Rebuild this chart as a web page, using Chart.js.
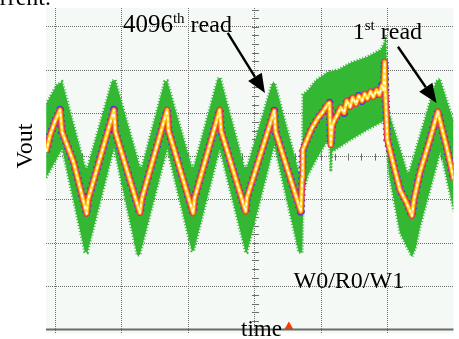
<!DOCTYPE html>
<html>
<head>
<meta charset="utf-8">
<script src="https://cdn.jsdelivr.net/npm/chart.js@4.4.1/dist/chart.umd.min.js"></script>
<style>html,body{margin:0;padding:0;background:#fff}canvas{display:block}</style>
</head>
<body>
<canvas id="scope" width="459" height="339"></canvas>
<script>
'use strict';
// time and Vout in screen divisions
var traceT=[-0.14,-0.08,-0.01,0.07,0.10,0.27,0.47,0.49,0.88,0.90,1.27,1.30,1.68,1.70,2.07,2.09,2.47,2.49,2.86,2.88,3.29,3.31,3.69,3.71,3.72,3.80,3.86,3.95,4.01,4.10,4.12,4.14,4.16,4.19,4.23,4.29,4.34,4.38,4.43,4.47,4.52,4.56,4.61,4.65,4.69,4.74,4.78,4.83,4.87,4.91,4.93,4.95,4.96,4.99,5.09,5.18,5.28,5.36,5.39,5.48,5.63,5.75,5.77,5.88,5.99];
var traceV=[4.11,4.50,4.80,5.08,4.57,3.88,2.68,3.00,5.08,4.57,2.70,3.03,5.08,4.60,2.69,3.03,5.08,4.60,2.73,3.05,5.06,4.57,2.73,3.51,4.16,4.46,4.67,4.90,5.01,5.22,5.24,4.27,4.71,4.83,4.94,5.13,5.01,5.29,5.15,5.36,5.22,5.40,5.29,5.45,5.34,5.50,5.38,5.54,5.43,5.64,5.54,6.19,5.50,4.39,3.77,3.23,2.93,2.63,3.00,3.63,4.39,5.04,4.90,4.23,3.46];
var upperT=[-0.14,0.02,0.10,0.45,0.48,0.85,0.90,1.27,1.30,1.64,1.68,2.05,2.08,2.44,2.48,2.84,2.88,3.26,3.30,3.67,3.71,3.72,3.80,3.92,4.10,4.25,4.44,4.69,4.89,4.95,4.97,4.98,5.01,5.29,5.32,5.72,5.78,5.99];
var upperV=[5.22,5.66,5.73,3.74,3.74,5.75,5.77,3.76,3.76,5.73,5.75,3.76,3.76,5.80,5.82,3.76,3.76,5.70,5.70,3.58,3.56,5.43,5.54,5.77,5.96,6.01,6.17,6.31,6.47,6.65,6.81,6.24,5.04,3.63,3.65,5.73,5.80,4.80];
var lowerT=[-0.14,0.10,0.44,0.48,0.88,1.23,1.27,1.68,2.05,2.08,2.47,2.86,2.88,3.29,3.66,3.71,3.73,3.80,3.92,4.10,4.12,4.14,4.16,4.25,4.44,4.69,4.94,4.96,5.01,5.18,5.28,5.36,5.41,5.48,5.79,5.99];
var lowerV=[3.51,4.18,1.80,1.78,4.20,1.71,1.73,4.18,1.82,1.82,4.18,1.78,1.78,4.27,1.78,1.78,3.19,3.58,3.93,4.39,4.37,3.65,4.11,4.20,4.39,4.62,4.83,4.71,3.63,2.24,1.92,1.69,1.85,2.36,4.13,2.73];
var triggerT=[3.51];
var triggerV=[0.06];
var xTicks=[0,1,2,3,4,5,6];
var yTicks=[0,1,2,3,4,5,6,7];

function pts(t,v){return t.map(function(x,i){return {x:x,y:v[i]};});}
var GREEN='#34b834', SERIF='"Liberation Serif","Times New Roman",serif';

function traceLine(color,width,dash,order){
  return {data:pts(traceT,traceV),borderColor:color,borderWidth:width,borderDash:dash,
    pointRadius:0,tension:0,fill:false,order:order,borderJoinStyle:'round'};
}

function text(ctx,x,y,parts){
  parts.forEach(function(p){
    ctx.font=p[1]+'px '+SERIF;
    ctx.fillText(p[0],x,y+p[2]);
    x+=ctx.measureText(p[0]).width;
  });
}
function arrow(ctx,x1,y1,x2,y2){
  var a=Math.atan2(y2-y1,x2-x1),L=19,W=8;
  var bx=x2-L*Math.cos(a),by=y2-L*Math.sin(a);
  ctx.beginPath();ctx.moveTo(x1,y1);ctx.lineTo(bx,by);ctx.lineWidth=2.4;ctx.strokeStyle='#000';ctx.stroke();
  ctx.beginPath();ctx.moveTo(x2,y2);
  ctx.lineTo(bx+W*Math.sin(a),by-W*Math.cos(a));
  ctx.lineTo(bx-W*Math.sin(a),by+W*Math.cos(a));
  ctx.closePath();ctx.fillStyle='#000';ctx.fill();
}

var scopeDeco={
  id:'scopeDeco',
  beforeDraw:function(chart){
    var c=chart.ctx,a=chart.chartArea;
    c.save();c.fillStyle='#fff';c.fillRect(0,0,chart.width,chart.height);
    c.fillStyle='#f4f9f5';c.fillRect(a.left,a.top,a.right-a.left,a.bottom-a.top);c.restore();
  },
  beforeDatasetsDraw:function(chart){
    var c=chart.ctx,xs=chart.scales.x,ys=chart.scales.y;
    var cx=xs.getPixelForValue(3),cy=ys.getPixelForValue(4),v;
    c.save();c.strokeStyle='#6e6e6e';c.lineWidth=1;c.beginPath();
    for(v=0.2;v<ys.max;v+=0.2){var py=Math.round(ys.getPixelForValue(v))+0.5;c.moveTo(cx-3,py);c.lineTo(cx+4,py);}
    for(v=0;v<xs.max;v+=0.2){var px=Math.round(xs.getPixelForValue(v))+0.5;c.moveTo(px,cy-3);c.lineTo(px,cy+4);}
    c.stroke();c.restore();
  },
  afterDatasetsDraw:function(chart){
    var c=chart.ctx,xs=chart.scales.x,ys=chart.scales.y,a=chart.chartArea;
    function X(t){return xs.getPixelForValue(t);}
    function Y(v){return ys.getPixelForValue(v);}
    c.save();
    c.strokeStyle='#6b6b6b';c.lineWidth=2;c.beginPath();c.moveTo(a.left,Y(0));c.lineTo(a.right,Y(0));c.stroke();
    c.fillStyle='#000';c.textBaseline='alphabetic';
    text(c,X(1.015),Y(6.89),[['4096',25,0],['th',15,-9],[' read',24,0]]);
    text(c,X(4.47),Y(6.71),[['1',24,0],['st',15,-9],[' read',24,0]]);
    text(c,X(3.58),Y(0.95),[['W0/R0/W1',24,0]]);
    arrow(c,X(2.59),Y(6.86),X(3.15),Y(5.47));
    arrow(c,X(5.15),Y(6.54),X(5.73),Y(5.24));
    text(c,241,336,[['time',23,0]]);
    text(c,-23,5,[['current.',24,0]]);
    c.translate(32,146);c.rotate(-Math.PI/2);c.textAlign='center';
    c.font='24px '+SERIF;c.fillText('Vout',0,0);
    c.restore();
  }
};

function axis(min,max,ticks){
  return {type:'linear',min:min,max:max,
    afterBuildTicks:function(s){s.ticks=ticks.filter(function(v){return v>=min&&v<=max;}).map(function(v){return {value:v};});},
    ticks:{display:false},
    grid:{color:'#707070',lineWidth:1,drawTicks:false},
    border:{display:false,dash:[1,1]}};
}

new Chart(document.getElementById('scope'),{
  type:'line',
  data:{datasets:[
    {data:pts(upperT,upperV),borderColor:GREEN,borderWidth:3,borderDash:[1,2],pointRadius:0,tension:0,fill:false,order:10},
    {data:pts(lowerT,lowerV),borderColor:GREEN,borderWidth:3,borderDash:[1,2],pointRadius:0,tension:0,fill:'-1',backgroundColor:GREEN,order:9},
    traceLine('#2b2bff',8,[1.5,4],5),
    traceLine('#e0305e',6.5,[],4),
    traceLine('#ff8c00',4.5,[],3),
    traceLine('#ffe23a',2.6,[],2),
    traceLine('#ffffff',1.5,[3,3],1),
    {data:pts(triggerT,triggerV),showLine:false,pointStyle:'triangle',pointRadius:5.5,
      pointBackgroundColor:'#ff3a00',pointBorderColor:'#ff3a00',pointBorderWidth:0,order:0,clip:false}
  ]},
  options:{
    responsive:false,animation:false,devicePixelRatio:1,
    layout:{padding:{left:46,top:8,right:0,bottom:5}},
    plugins:{legend:{display:false},tooltip:{enabled:false}},
    scales:{x:axis(-0.142,5.985,xTicks),y:axis(-0.092,7.436,yTicks)}
  },
  plugins:[scopeDeco]
});
</script>
</body>
</html>
